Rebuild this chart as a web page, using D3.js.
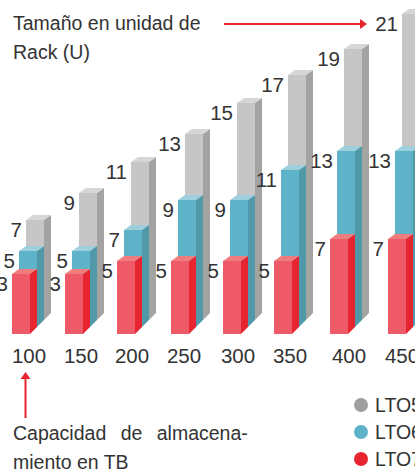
<!DOCTYPE html>
<html><head><meta charset="utf-8">
<style>html,body{margin:0;padding:0;background:#fff;overflow:hidden}svg{display:block}text{font-family:"Liberation Sans",sans-serif;fill:#333}</style>
<script src="https://cdn.jsdelivr.net/npm/d3@7"></script></head><body>
<script>
const categories=[100,150,200,250,300,350,400,450];
const lto5=[7,9,11,13,15,17,19,21];
const lto6=[5,5,7,9,9,11,13,13];
const lto7=[3,3,5,5,5,5,7,7];
const seriesNames=["LTO5","LTO6","LTO7"];
const seriesValues=[lto5,lto6,lto7];
const frontColors=["#c6c6c6","#5fb3c9","#ee5a68"];
const topColors=["#d6d6d6","#9dd0dc","#f07d7d"];
const sideColors=["#a3a3a2","#5198a9","#e62530"];
const legendColors=["#a09f9e","#5fb3c9","#e62530"];

const W=415,H=472;
const svg=d3.select("body").append("svg").attr("width",W).attr("height",H);
const x=d3.scaleLinear().domain([100,150,200,250,300,350,400,450]).range([12,65,117,171,223,274,330,388]);
const xLabel=d3.scaleLinear().domain([100,150,200,250,300,350,400,450]).range([29,81,132,184,238,290,349,402]);
const yBase=334, barW=18, dx=7, dyTop=5, dyBottom=7;
// the source's 3D bars are not drawn in proportion, so each series has its own height scale
const heightScales=[
  d3.scaleLinear().domain([7,9,11,13,15,17,19,21]).range([100,127,158,186,217,245,271,306]),
  d3.scaleLinear().domain([5,7,9,11,13]).range([76,97,127,157,176]),
  d3.scaleLinear().domain([3,5,7]).range([60,73,95])
];
const red="#e62530";
const depth=s=>seriesNames.length-1-s;

seriesValues.forEach((vals,s)=>{
  const g=svg.append("g");
  const h=heightScales[s];
  vals.forEach((v,i)=>{
    const l=x(categories[i])+depth(s)*dx, b=yBase-depth(s)*dyBottom, t=b-h(v), r=l+barW;
    g.append("polygon").attr("fill",sideColors[s]).attr("points",[[r,t],[r+dx,t-dyTop],[r+dx,b-dyBottom],[r,b]].join(" "));
    g.append("polygon").attr("fill",topColors[s]).attr("points",[[l,t],[l+dx,t-dyTop],[r+dx,t-dyTop],[r,t]].join(" "));
    g.append("rect").attr("x",l).attr("y",t).attr("width",barW).attr("height",h(v)).attr("fill",frontColors[s]);
  });
});
seriesValues.forEach((vals,s)=>{
  const h=heightScales[s];
  vals.forEach((v,i)=>{
    const l=x(categories[i])+depth(s)*dx, b=yBase-depth(s)*dyBottom, t=b-h(v);
    svg.append("text").attr("x",l-4).attr("y",t+17).attr("text-anchor","end").attr("font-size",20.5).text(v);
  });
});
categories.forEach(c=>{
  svg.append("text").attr("x",xLabel(c)).attr("y",363).attr("text-anchor","middle").attr("font-size",20.5).text(c);
});

function note(tx,ty,str,ws){svg.append("text").attr("x",tx).attr("y",ty).attr("font-size",19.5).attr("word-spacing",ws||0).text(str);}
note(13,30,"Tamaño en unidad de");
note(13,59,"Rack (U)");
note(13,440,"Capacidad de almacena-",9);
note(13,469,"miento en TB");

svg.append("line").attr("x1",224).attr("x2",362).attr("y1",24).attr("y2",24).attr("stroke",red).attr("stroke-width",2);
svg.append("polygon").attr("fill",red).attr("points","360,19 367,24 360,29");
svg.append("line").attr("x1",25.5).attr("x2",25.5).attr("y1",418).attr("y2",376).attr("stroke",red).attr("stroke-width",2);
svg.append("polygon").attr("fill",red).attr("points","20.5,379 25.5,372 30.5,379");

const legendY=d3.scalePoint().domain(seriesNames).range([405,459]);
seriesNames.forEach((n,i)=>{
  svg.append("circle").attr("cx",361).attr("cy",legendY(n)).attr("r",7).attr("fill",legendColors[i]);
  svg.append("text").attr("x",375).attr("y",legendY(n)+7).attr("font-size",19.5).text(n);
});
</script></body></html>
